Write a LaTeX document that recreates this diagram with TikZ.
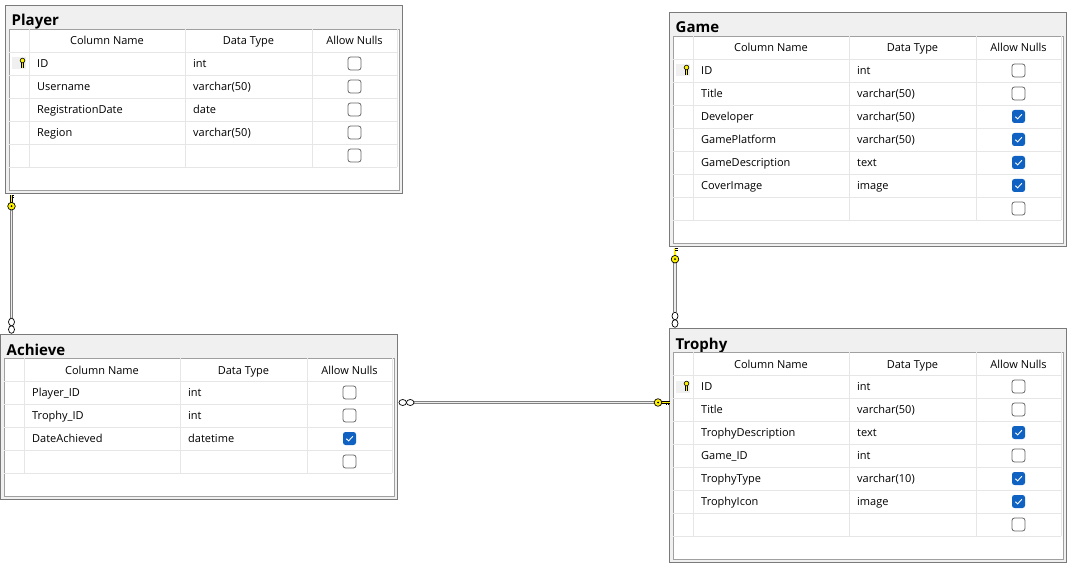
\documentclass[tikz,border=0pt]{standalone}
\usepackage{fontspec}
\setmainfont{Open Sans}

\definecolor{boxframe}{HTML}{7A7A7A}
\definecolor{titlegray}{HTML}{F0F0F0}
\definecolor{gridframe}{HTML}{A0A0A0}
\definecolor{gridline}{HTML}{E6E6E6}
\definecolor{nullblue}{HTML}{0F62C2}
\definecolor{keyyellow}{HTML}{FFF200}

\tikzset{
  tablebox/.style={draw=boxframe, fill=titlegray, line width=1.2pt, rectangle, inner sep=0pt, anchor=north west, minimum width=397pt},
  tabletitle/.style={font=\bfseries\fontsize{15}{17}\selectfont, anchor=base west, inner sep=0pt},
  headtext/.style={font=\fontsize{11}{13}\selectfont, anchor=base, inner sep=0pt},
  celltext/.style={font=\fontsize{11}{13}\selectfont, anchor=base west, inner sep=0pt},
  nullbox/.style={draw=black!60, fill=white, rounded corners=2.5pt, line width=0.8pt},
  nullcheck/.style={fill=nullblue, rounded corners=2.5pt},
  relline/.style={draw=gray, double=gray!15, double distance=1.5pt, line width=1.1pt},
  manyend/.style={draw=black, fill=white, line width=0.7pt},
  keyend/.style={draw=black, fill=keyyellow, line width=0.7pt},
}

% key mark in the row selector
\newcommand{\selkey}[1]{%
  \fill[gray!12] (7,#1-6) rectangle (21,#1+6);
  \draw[black, line width=2.2pt] (17.5,#1-1) -- (17.5,#1+4.5);
  \draw[keyyellow, line width=0.9pt] (17.5,#1-1) -- (17.5,#1+4.5);
  \draw[black, line width=0.6pt] (17.5,#1+2.5) -- (19.3,#1+2.5);
  \draw[keyend, line width=0.6pt] (17.5,#1-3) circle (2.3);
}

% #1 name, #2 title, #3 corner, #4 rows (with the empty one), #5 column/type/null (0 no, 1 yes, 2 key)
\newcommand{\dbtable}[5]{%
  \pgfmathsetmacro\tabh{47+23*#4+26}
  \node[tablebox, minimum height=\tabh pt] (#1) at (#3) {};
  \begin{scope}[shift={(#1.north west)}]
    \node[tabletitle] (#1-title) at (6.5,21) {#2};
    \draw[gridframe, fill=white, line width=0.8pt] (4,24) rectangle (394,\tabh-3);
    \foreach \r in {0,...,#4}
      \draw[gridline] (4,47+23*\r) -- (392,47+23*\r);
    \foreach \cx in {24,180,307,392}
      \draw[gridline] (\cx,24) -- (\cx,47+23*#4);
    \node[headtext] (#1-hname) at (102,40) {Column Name};
    \node[headtext] (#1-htype) at (243.5,40) {Data Type};
    \node[headtext] (#1-hnull) at (349.5,40) {Allow Nulls};
    \foreach \cname/\ctype/\cnull [count=\i] in {#5} {
      \pgfmathsetmacro\yc{35.5+23*\i}
      \node[celltext] (#1-name\i) at (32,\yc+4.3) {\cname};
      \node[celltext] (#1-type\i) at (188,\yc+4.3) {\ctype};
      \ifnum\cnull=1
        \fill[nullcheck] (343,\yc-6.5) rectangle (356,\yc+6.5);
        \draw[white, line width=0.9pt] (346.3,\yc+0.2) -- (348.6,\yc+2.4) -- (352.8,\yc-2.2);
      \else
        \draw[nullbox] (343,\yc-6.5) rectangle (356,\yc+6.5);
      \fi
      \ifnum\cnull=2 \selkey{\yc}\fi
    }
    \pgfmathsetmacro\yc{35.5+23*#4} % empty last row
    \draw[nullbox] (343,\yc-6.5) rectangle (356,\yc+6.5);
  \end{scope}
}

% one side: key, many side: two rings; #1 point, #2 direction
\newcommand{\keyend}[2]{%
  \begin{scope}[shift={(#1)}, rotate=#2]
    \draw[black, line width=2.6pt] (3,0) -- (11.5,0);
    \draw[keyyellow, line width=1.2pt] (3,0) -- (11.5,0);
    \draw[black, line width=0.7pt] (8.5,0) -- (8.5,2.8) (10.8,0) -- (10.8,2.8);
    \draw[keyend] (0,0) circle (3.8);
    \fill[black] (0,0) circle (1);
  \end{scope}
}
\newcommand{\manyend}[2]{%
  \begin{scope}[shift={(#1)}, rotate=#2]
    \draw[manyend] (4.5,0) ellipse (3.8 and 3);
    \draw[manyend] (12,0) ellipse (3.8 and 3);
  \end{scope}
}

\begin{document}
\begin{tikzpicture}[x=1pt, y=-1pt]
  \useasboundingbox (0,0) rectangle (1077,575);

  \dbtable{player}{Player}{5,5}{5}{ID/int/2, Username/varchar(50)/0, RegistrationDate/date/0, Region/varchar(50)/0}
  \dbtable{achieve}{Achieve}{0,334}{4}{Player\_ID/int/0, Trophy\_ID/int/0, DateAchieved/datetime/1}
  \dbtable{game}{Game}{669,12}{7}{ID/int/2, Title/varchar(50)/0, Developer/varchar(50)/1, GamePlatform/varchar(50)/1, GameDescription/text/1, CoverImage/image/1}
  \dbtable{trophy}{Trophy}{669,328}{7}{ID/int/2, Title/varchar(50)/0, TrophyDescription/text/1, Game\_ID/int/0, TrophyType/varchar(10)/1, TrophyIcon/image/1}

  % relation end points
  \coordinate (playerpk) at ([xshift=6.5pt]player.south west);
  \coordinate (achievefk1) at ([xshift=11.5pt]achieve.north west);
  \coordinate (achievefk2) at ([yshift=-68.5pt]achieve.north east);
  \coordinate (trophypk) at ([yshift=-74.5pt]trophy.north west);
  \coordinate (gamepk) at ([xshift=6pt]game.south west);
  \coordinate (trophyfk) at ([xshift=6pt]trophy.north west);

  \draw[relline, shorten <=15pt, shorten >=16pt] (playerpk) -- (achievefk1); % Player - Achieve
  \draw[relline, shorten <=16pt, shorten >=15pt] (achievefk2) -- (trophypk); % Achieve - Trophy
  \draw[relline, shorten <=15pt, shorten >=16pt] (gamepk) -- (trophyfk); % Game - Trophy

  \keyend{[yshift=-12pt]playerpk}{90}
  \manyend{achievefk1}{90}
  \manyend{achievefk2}{0}
  \keyend{[xshift=-11pt]trophypk}{0}
  \keyend{[yshift=-12pt]gamepk}{90}
  \manyend{trophyfk}{90}
\end{tikzpicture}
\end{document}
